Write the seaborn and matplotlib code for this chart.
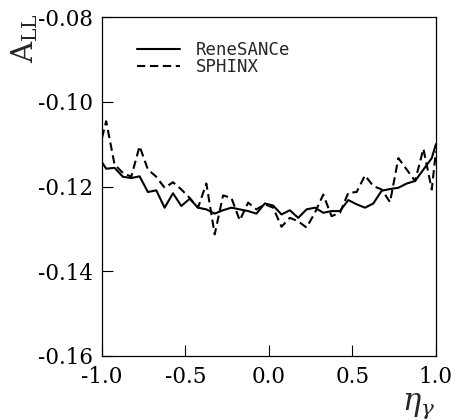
import numpy as np
import pandas as pd
import matplotlib
matplotlib.use("Agg")
import matplotlib.pyplot as plt
import seaborn as sns

# eta_gamma bin centres (plus the two edges)
eta = [-1.0, -0.975, -0.925, -0.875, -0.825, -0.775, -0.725, -0.675, -0.625, -0.575,
       -0.525, -0.475, -0.425, -0.375, -0.325, -0.275, -0.225, -0.175, -0.125, -0.075,
       -0.025, 0.025, 0.075, 0.125, 0.175, 0.225, 0.275, 0.325, 0.375, 0.425,
       0.475, 0.525, 0.575, 0.625, 0.675, 0.725, 0.775, 0.825, 0.875, 0.925,
       0.975, 1.0]

renesance = [-0.1143, -0.1158, -0.1156, -0.1177, -0.1180, -0.1176, -0.1213, -0.1209, -0.1250, -0.1216,
             -0.1246, -0.1229, -0.1250, -0.1254, -0.1264, -0.1256, -0.1250, -0.1254, -0.1258, -0.1264,
             -0.1240, -0.1245, -0.1266, -0.1256, -0.1274, -0.1254, -0.1250, -0.1262, -0.1258, -0.1258,
             -0.1232, -0.1242, -0.1250, -0.1240, -0.1210, -0.1206, -0.1203, -0.1193, -0.1187, -0.1160,
             -0.1133, -0.1100]

sphinx = [-0.1085, -0.1046, -0.1148, -0.1168, -0.1177, -0.1105, -0.1160, -0.1177, -0.1203, -0.1190,
          -0.1207, -0.1227, -0.1250, -0.1193, -0.1313, -0.1221, -0.1227, -0.1280, -0.1238, -0.1254,
          -0.1242, -0.1250, -0.1295, -0.1274, -0.1282, -0.1297, -0.1262, -0.1219, -0.1270, -0.1262,
          -0.1215, -0.1213, -0.1174, -0.1199, -0.1207, -0.1237, -0.1133, -0.1160, -0.1187, -0.1111,
          -0.1207, -0.1117]

df = pd.DataFrame({
    "eta": eta * 2,
    "A": renesance + sphinx,
    "gen": ["ReneSANCe"] * len(eta) + ["SPHINX"] * len(eta),
})

sns.set_style("white")
plt.rcParams["font.family"] = ["DejaVu Serif"]
plt.rcParams["axes.unicode_minus"] = False
plt.rcParams["mathtext.fontset"] = "dejavuserif"

fig = plt.figure(figsize=(4.56, 4.20), dpi=100)
ax = fig.add_axes([0.2237, 0.1524, 0.7323, 0.8071])

sns.lineplot(data=df, x="eta", y="A", hue="gen", style="gen",
             palette=["black", "black"], dashes=[(None, None), (4, 2.2)],
             linewidth=1.5, ax=ax, legend=True)

ax.set_xlim(-1.0, 1.0)
ax.set_ylim(-0.16, -0.08)
ax.set_xticks([-1.0, -0.5, 0.0, 0.5, 1.0])
ax.set_yticks([-0.16, -0.14, -0.12, -0.10, -0.08])
ax.set_xticklabels(["-1.0", "-0.5", "0.0", "0.5", "1.0"])
ax.set_yticklabels(["-0.16", "-0.14", "-0.12", "-0.10", "-0.08"])
ax.tick_params(direction="in", length=8, width=0.8, labelsize=15.5,
               left=True, bottom=True, colors="black", labelcolor="black")
ax.tick_params(axis="y", pad=6.5)
ax.tick_params(axis="x", pad=7)
for s in ax.spines.values():
    s.set_color("black")
    s.set_linewidth(0.9)

ax.set_xlabel("")
ax.set_ylabel("")
fig.text(0.055, 0.97, r"A$_{\rm LL}$", rotation=90, fontsize=21, ha="center", va="top")
fig.text(0.918, 0.035, r"$\eta_\gamma$", fontsize=22, ha="center", va="center")

leg = ax.legend(loc="upper left", bbox_to_anchor=(0.105, 0.93), frameon=False,
                prop={"family": "DejaVu Sans Mono", "size": 12.5},
                borderpad=0, borderaxespad=0,
                handlelength=2.45, handletextpad=0.95, labelspacing=-0.05)

fig.savefig("out.png", dpi=100)
